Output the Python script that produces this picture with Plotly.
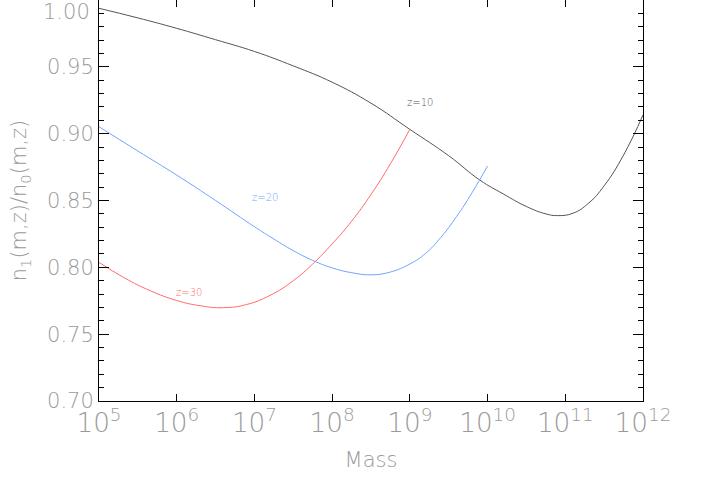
import plotly.graph_objects as go

# log10(mass) sample points
logm_z10 = [5.0, 5.5, 6.0, 6.5, 7.0, 7.5, 8.0, 8.5, 9.0, 9.5, 9.9, 10.2, 10.5, 10.75, 10.9, 11.1, 11.3, 11.5, 11.75, 12.0]
ratio_z10 = [0.9938, 0.9866, 0.9788, 0.9703, 0.9615, 0.9507, 0.9385, 0.9228, 0.9032, 0.8835, 0.8653, 0.8550, 0.8455, 0.8400, 0.8387, 0.8405, 0.8480, 0.8610, 0.8840, 0.9140]

logm_z20 = [5.0, 5.5, 6.0, 6.5, 7.0, 7.25, 7.5, 7.75, 8.0, 8.25, 8.5, 8.75, 9.0, 9.2, 9.4, 9.6, 9.8, 10.0]
ratio_z20 = [0.9052, 0.8870, 0.8690, 0.8500, 0.8304, 0.8212, 0.8125, 0.8052, 0.7996, 0.7960, 0.7944, 0.7965, 0.8025, 0.8103, 0.8225, 0.8379, 0.8558, 0.8758]

logm_z30 = [5.0, 5.33, 5.66, 6.0, 6.3, 6.6, 6.9, 7.2, 7.5, 7.75, 8.0, 8.25, 8.5, 8.75, 9.0]
ratio_z30 = [0.8037, 0.7920, 0.7825, 0.7752, 0.7713, 0.7698, 0.7722, 0.7790, 0.7900, 0.8025, 0.8175, 0.8345, 0.8545, 0.8775, 0.9032]

series = [
    ("z=10", logm_z10, ratio_z10, "#555555", 9.13, 0.9230),
    ("z=20", logm_z20, ratio_z20, "#6fa6ff", 7.14, 0.8520),
    ("z=30", logm_z30, ratio_z30, "#ff6b6b", 6.16, 0.7815),
]

fig = go.Figure()
for name, lm, r, col, lx, ly in series:
    fig.add_trace(go.Scatter(
        x=[10 ** v for v in lm], y=r, mode="lines", name=name,
        line=dict(color=col, width=1, shape="spline", smoothing=1.3),
    ))
    fig.add_annotation(x=lx, y=ly, text=name, showarrow=False,
                       font=dict(size=10, color=col, family="DejaVu Sans", weight=200))

label_font = dict(size=21, color="#9a9a9a", family="DejaVu Sans", weight=200)

fig.add_annotation(x=0, y=1.0, xref="paper", yref="y", text="1.00", showarrow=False,
                   xanchor="right", yanchor="top", xshift=-7, yshift=2,
                   font=label_font)

fig.update_layout(
    width=709, height=486,
    margin=dict(l=99, r=66, t=0, b=85),
    paper_bgcolor="white", plot_bgcolor="white",
    showlegend=False,
    xaxis=dict(
        type="log", range=[5, 12], dtick=1, exponentformat="power",
        automargin=False,
        showgrid=False, zeroline=False,
        showline=True, linecolor="black", linewidth=1, mirror="ticks",
        ticks="inside", ticklen=7, tickcolor="black",
        tickfont=label_font,
        title=dict(text="Mass", font=label_font, standoff=14),
    ),
    yaxis=dict(
        range=[0.70, 1.00],
        automargin=False,
        tickvals=[0.70, 0.75, 0.80, 0.85, 0.90, 0.95],
        ticktext=["0.70", "0.75", "0.80", "0.85", "0.90", "0.95"],
        showgrid=False, zeroline=False,
        showline=True, linecolor="black", linewidth=1, mirror="ticks",
        ticks="inside", ticklen=10, tickcolor="black",
        minor=dict(dtick=0.01, ticks="inside", ticklen=5, tickcolor="black", showgrid=False),
        tickfont=label_font,
        title=dict(text="n<sub>1</sub>(m,z)/n<sub>0</sub>(m,z)", font=label_font, standoff=14),
    ),
)

# page body has a default 8px margin; drop it so the figure sits at the corner
fig.write_html("out.html", config={"displayModeBar": False},
               post_script="document.body.style.margin='0';")
